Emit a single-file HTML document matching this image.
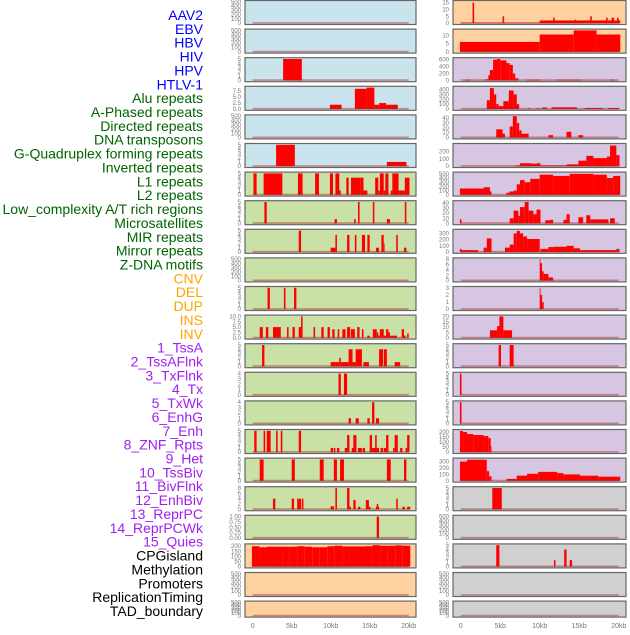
<!DOCTYPE html>
<html><head><meta charset="utf-8"><style>
body{margin:0;background:#fff;width:630px;height:630px;overflow:hidden}
svg text{font-family:"Liberation Sans",sans-serif}
</style></head><body>
<svg id="c" width="630" height="630" xmlns="http://www.w3.org/2000/svg"></svg>
<script>
const labelNames=["AAV2","EBV","HBV","HIV","HPV","HTLV-1","Alu repeats","A-Phased repeats","Directed repeats","DNA transposons","G-Quadruplex forming repeats","Inverted repeats","L1 repeats","L2 repeats","Low_complexity A/T rich regions","Microsatellites","MIR repeats","Mirror repeats","Z-DNA motifs","CNV","DEL","DUP","INS","INV","1_TssA","2_TssAFlnk","3_TxFlnk","4_Tx","5_TxWk","6_EnhG","7_Enh","8_ZNF_Rpts","9_Het","10_TssBiv","11_BivFlnk","12_EnhBiv","13_ReprPC","14_ReprPCWk","15_Quies","CPGisland","Methylation","Promoters","ReplicationTiming","TAD_boundary"];
const labelGroups=[6,13,5,15,5];
const xTickVals=[0,5,10,15,20];
const xTickLabels=["0","5kb","10kb","15kb","20kb"];
const T500=["0","100","200","300","400","500"];
const T5=["0","1","2","3","4","5"];
const T4=["0","1","2","3","4"];
const L0=[],L1=[],L4=[],L9=[],L20=[],L21=[];
const L2=[[3.9,6.3,5]];
const L3=[[9.9,11.4,1.8],[13.1,14.6,8.5],[14.6,15.6,9],[15.6,16.2,1.8],[16.2,17.1,2.5],[17.1,18.6,1.8]];
const L5=[[3.0,5.4,5],[17.2,19.7,1]];
const L6=[[0.1,0.5,5],[1.4,3.8,5],[5.8,6.4,5],[8.0,8.5,5],[9.9,10.3,5],[10.6,11.1,5],[11.1,11.3,1],[12.0,12.3,4],[12.6,13.8,4],[13.8,14.2,4],[14.2,14.7,1],[15.7,16.1,4],[16.1,16.3,1],[16.3,16.8,5],[16.8,17.0,1],[17.0,17.4,5],[17.7,17.9,1],[17.9,18.7,5],[18.7,19.5,1],[19.5,20.1,4]];
const L7=[[1.5,1.8,5],[10.5,10.8,1],[13.0,13.2,1],[13.5,13.7,5],[15.4,15.6,5],[17.2,17.6,1],[19.5,19.7,5]];
const L8=[[5.9,6.2,5],[10.0,10.6,1],[10.6,10.8,4],[12.1,12.4,4],[13.1,13.3,4],[14.0,14.4,4],[14.7,15.0,4],[15.8,16.2,1],[16.5,16.8,4],[16.8,16.9,2],[18.4,18.6,4],[19.4,19.7,1]];
const L10=[[1.9,2.2,5],[4.0,4.2,5],[5.3,5.6,5]];
const L11=[[0.9,1.3,5],[1.7,2.0,5],[2.6,3.6,5],[4.4,4.6,5],[5.1,5.4,5],[5.9,6.2,5],[6.2,6.4,10],[7.8,8.0,5],[8.8,9.1,5],[9.6,9.9,5],[10.2,10.5,4],[10.9,11.1,4],[11.5,11.9,4],[12.1,12.5,5],[12.6,13.1,4],[13.4,13.7,5],[14.0,14.2,4],[14.7,15.0,1],[15.4,15.9,4],[15.9,16.1,2.5],[16.1,16.3,1],[16.3,16.8,4],[16.8,17.1,1],[17.1,17.4,4],[17.4,17.6,2.5],[17.6,18.5,1],[19.1,19.4,4],[19.4,19.6,1],[19.8,20.0,2]];
const L12=[[1.2,1.5,5],[10.0,10.6,1],[10.6,11.1,1],[11.1,11.3,2],[11.3,12.3,1],[12.3,12.8,4],[12.8,13.2,1],[13.2,14.0,4],[14.2,14.9,1],[16.2,16.7,4],[16.8,17.2,4],[18.2,18.9,1]];
const L13=[[11.0,11.3,4],[11.7,12.1,4]];
const L14=[[12.3,12.6,1],[13.2,13.6,1],[14.7,15.0,1],[15.3,15.6,4],[15.8,16.2,1]];
const L15=[[0.2,0.5,5],[1.4,1.6,5],[1.8,2.3,5],[3.0,3.2,5],[3.6,3.8,5],[5.9,6.2,5],[12.1,12.4,4],[12.9,13.3,4],[15.0,15.3,4],[15.7,15.9,4],[17.1,17.4,4],[18.2,18.6,4],[19.8,20.1,4],[10.0,10.3,1],[10.4,10.6,1],[10.8,11.1,1],[11.8,12.1,1],[12.7,13.0,1],[13.5,14.0,1],[14.1,14.4,1],[15.3,16.2,1],[16.4,16.7,1],[16.8,17.1,1],[18.0,18.2,1],[18.9,19.2,1],[19.6,19.8,1]];
const L16=[[0.9,1.4,5],[5.0,5.4,5],[8.6,9.1,5],[10.4,10.8,5],[11.2,11.7,5],[17.2,17.7,5],[19.4,19.7,5]];
const L17=[[2.6,2.9,4],[5.0,5.3,4],[5.7,6.2,4],[6.3,6.5,4],[10.0,10.4,1.2],[10.6,10.8,8],[12.1,12.4,8],[12.4,12.6,1],[12.9,13.2,3.5],[13.5,13.8,1],[14.5,14.9,3.5],[14.9,15.1,1],[15.8,16.2,1],[15.9,16.1,2],[18.4,18.6,4],[19.2,19.5,1],[19.8,20.2,1]];
const L18=[[15.9,16.2,1]];
const cpgValues=[200,190,195,195,195,195,200,195,190,190,200,205,198,198,198,200,210,205,205,208,205];
const L19=cpgValues.map((v,i)=>[-0.1+i*20.3/21,-0.1+(i+1)*20.3/21,v]);
const R18=[],R20=[],R21=[];
const R0=[[0,10.0,0.3],[1.5,1.7,15],[5.3,5.5,5],[10.0,20.2,2],[11.7,11.9,4],[14.4,14.6,2.5],[16.4,16.6,5],[18.4,18.6,4],[19.1,19.4,4],[19.8,20.0,4]];
const R1=[[-0.1,10.0,6],[10.0,14.3,10.5],[14.3,17.2,13],[17.2,20.2,10.5]];
const R2=[[0.5,1.2,20],[3.1,3.5,30],[3.5,3.7,150],[3.7,4.1,300],[4.1,4.6,600],[4.6,5.0,620],[5.0,5.8,580],[5.8,6.2,500],[6.2,6.6,450],[6.6,6.9,200],[6.9,7.3,60],[8.3,10.1,20],[12.2,15.3,20],[19.0,19.5,20]];
const R3=[[3.3,3.7,180],[3.7,4.2,430],[4.2,4.5,300],[4.5,4.8,100],[4.8,5.4,60],[5.4,6.1,160],[6.1,6.7,380],[6.7,7.1,300],[7.1,7.4,100],[8.6,8.8,20],[9.6,10.0,15],[10.3,10.9,30],[11.5,14.7,35],[15.7,18.0,20],[18.7,20.1,20]];
const R4=[[4.5,5.3,17],[5.3,5.6,8],[6.2,6.6,23],[6.6,7.1,44],[7.1,7.4,30],[7.4,7.7,15],[7.7,8.6,8],[11.1,11.7,5],[13.4,14.0,12],[14.9,15.5,5]];
const R5=[[6.9,7.5,10],[7.5,9.0,40],[9.0,9.6,35],[9.6,10.1,40],[10.1,13.4,10],[13.4,14.9,25],[14.9,15.9,75],[15.9,16.8,140],[16.8,18.5,110],[18.5,18.9,130],[18.9,19.7,280],[19.7,20.1,150]];
const R6=[[-0.1,2.9,150],[2.9,3.7,180],[3.7,3.9,80],[5.8,6.2,50],[6.2,6.7,80],[6.7,7.1,100],[7.1,7.5,250],[7.5,8.1,350],[8.1,8.8,300],[8.8,10.0,380],[10.0,11.7,480],[11.7,13.8,450],[13.8,16.8,500],[16.8,18.5,480],[18.5,19.3,400],[19.3,20.2,450]];
const R7=[[-0.1,0.1,8],[6.2,6.7,10],[6.7,7.3,25],[7.3,7.5,15],[7.5,8.1,32],[8.1,8.6,42],[8.6,9.2,25],[9.2,9.6,18],[9.6,10.1,27],[10.7,11.3,6],[11.3,11.7,7],[13.0,13.4,7],[13.4,13.8,18],[14.9,15.5,12],[15.9,16.4,16],[16.4,18.7,8],[18.9,19.5,10]];
const R8=[[-0.1,0.1,50],[0.1,2.2,30],[2.9,3.3,70],[3.3,3.9,220],[5.6,6.2,70],[6.2,6.7,120],[6.7,7.1,300],[7.1,7.5,340],[7.5,7.9,300],[7.9,8.4,250],[8.4,10.0,210],[10.1,11.1,50],[11.1,11.7,80],[11.7,13.4,85],[13.4,14.3,100],[14.3,15.1,60],[15.1,19.7,30],[19.7,20.1,50]];
const R9=[[10.0,10.1,8],[10.1,10.3,6.5],[10.3,10.5,3.5],[10.5,11.1,2.5],[11.1,11.7,1.2]];
const R10=[[10.0,10.1,3],[10.1,10.3,2],[10.3,10.5,1]];
const R11=[[3.7,4.6,7],[4.6,4.9,11],[4.9,5.4,20],[5.4,6.5,7]];
const R12=[[4.8,5.1,5],[6.2,6.7,5]];
const R13=[[-0.1,0.1,5]];
const R14=[[-0.1,0.1,5]];
const R15=[[-0.1,0.3,210],[0.3,0.8,200],[0.8,1.6,180],[1.6,2.9,170],[2.9,3.5,160],[3.5,3.8,140],[3.8,3.9,60]];
const R16=[[-0.1,0.8,300],[0.8,3.3,330],[3.3,3.6,150],[3.6,3.9,70],[5.8,7.1,30],[7.1,8.4,80],[8.4,9.8,110],[9.8,12.2,140],[12.2,13.0,120],[13.0,15.1,100],[15.1,17.4,80],[17.4,20.2,65]];
const R17=[[4.0,5.2,5]];
const R19=[[4.5,4.9,5],[11.8,12.0,1.5],[13.1,13.4,4],[13.8,14.1,1.5]];

const BLUE="#c9e4ec",GREEN="#c9e1a6",ORANGE="#ffd1a1",PURPLE="#d6c6e2",GRAY="#d0d0d0";
const leftPanels=[
 [L0,500,T500,BLUE],[L1,500,T500,BLUE],[L2,5,T5,BLUE],[L3,9,["0.0","2.5","5.0","7.5"],BLUE],[L4,500,T500,BLUE],[L5,5,T5,BLUE],
 [L6,5,T5,GREEN],[L7,5,T5,GREEN],[L8,5,T5,GREEN],[L9,500,T500,GREEN],[L10,5,T5,GREEN],[L11,10,["0.0","2.5","5.0","7.5","10.0"],GREEN],
 [L12,5,T5,GREEN],[L13,4,T4,GREEN],[L14,4,T4,GREEN],[L15,5,T5,GREEN],[L16,5,T5,GREEN],[L17,8,["0","2","4","6","8"],GREEN],
 [L18,1,["0.00","0.25","0.50","0.75","1.00"],GREEN],[L19,210,["0","50","100","150","200"],ORANGE],[L20,500,T500,ORANGE],[L21,500,T500,ORANGE]];
const rightPanels=[
 [R0,15.5,["0","5","10","15"],ORANGE],[R1,13,["0","5","10"],ORANGE],[R2,620,["0","200","400","600"],PURPLE],[R3,440,["0","100","200","300","400"],PURPLE],
 [R4,44,["0","10","20","30","40"],PURPLE],[R5,290,["0","100","200"],PURPLE],[R6,510,["0","100","200","300","400","500"],PURPLE],[R7,42,["0","10","20","30","40"],PURPLE],
 [R8,345,["0","100","200","300"],PURPLE],[R9,8,["0","2","4","6","8"],PURPLE],[R10,3,["0","1","2","3"],PURPLE],[R11,20,["0","5","10","15","20"],PURPLE],
 [R12,5,T5,PURPLE],[R13,5,T5,PURPLE],[R14,5,T5,PURPLE],[R15,212,["0","50","100","150","200"],PURPLE],[R16,335,["0","100","200","300"],PURPLE],
 [R17,5,T5,GRAY],[R18,500,T500,GRAY],[R19,5,T5,GRAY],[R20,500,T500,GRAY],[R21,500,T500,GRAY]];

const NS="http://www.w3.org/2000/svg";
const svg=document.getElementById('c');
function mk(tag,attrs,parent){const e=document.createElementNS(NS,tag);for(const k in attrs)e.setAttribute(k,attrs[k]);(parent||svg).appendChild(e);return e;}
const cols=[{x0:245,x1:416,xz:252.7,kx:7.8,tx:241},{x0:453,x1:626,xz:460.7,kx:7.9,tx:449}];
function rowTop(i){return 0.5+28.6*i;}
function rowH(i){return i===21?16:24;}

const groupColors=["#0000ff","#006400","#ffa500","#a020f0","#000000"];
let li=0;
labelGroups.forEach((n,g)=>{for(let k=0;k<n;k++){
 const t=mk('text',{x:203,y:20+li*13.86,'text-anchor':'end','font-size':'14',fill:groupColors[g]});
 t.textContent=labelNames[li];
 
 
 li++;}});

[leftPanels,rightPanels].forEach((panels,ci)=>{
 const C=cols[ci];
 panels.forEach((p,ri)=>{
  const [segs,ymax,ticks,bg]=p;
  const top=rowTop(ri),h=rowH(ri),bot=top+h;
  const g=mk('g',{});
  
  
  mk('rect',{x:C.x0,y:top,width:C.x1-C.x0,height:h,fill:bg},g);
  const y=v=>bot-1.3-v/ymax*(h-2.6);
  const x=kb=>C.xz+kb*C.kx;
  segs.forEach(s=>{
   const r=mk('rect',{x:x(s[0]),y:y(s[2]),width:Math.max(0.8,x(s[1])-x(s[0])),height:Math.max(0,y(0)-y(s[2])),fill:'#ff0000'},g);
   
   
  });
  mk('line',{x1:x(0),x2:x(20),y1:y(0)-0.3,y2:y(0)-0.3,stroke:'rgba(170,30,30,0.45)','stroke-width':1.6},g);
  mk('rect',{x:C.x0,y:top,width:C.x1-C.x0,height:h,fill:'none',stroke:'#666','stroke-width':1.2},g);
  ticks.forEach(t=>{
   const tv=parseFloat(t);
   const tt=mk('text',{x:C.tx,y:y(tv)+2,'text-anchor':'end','font-size':'6',fill:'#777'},g);
   tt.textContent=t;
   
   
  });
 });
 xTickVals.forEach((v,i)=>{
  const t=mk('text',{x:C.xz+v*C.kx,y:628,'text-anchor':'middle','font-size':'7',fill:'#777'});
  t.textContent=xTickLabels[i];
  
  
 });
});
</script>
</body></html>
